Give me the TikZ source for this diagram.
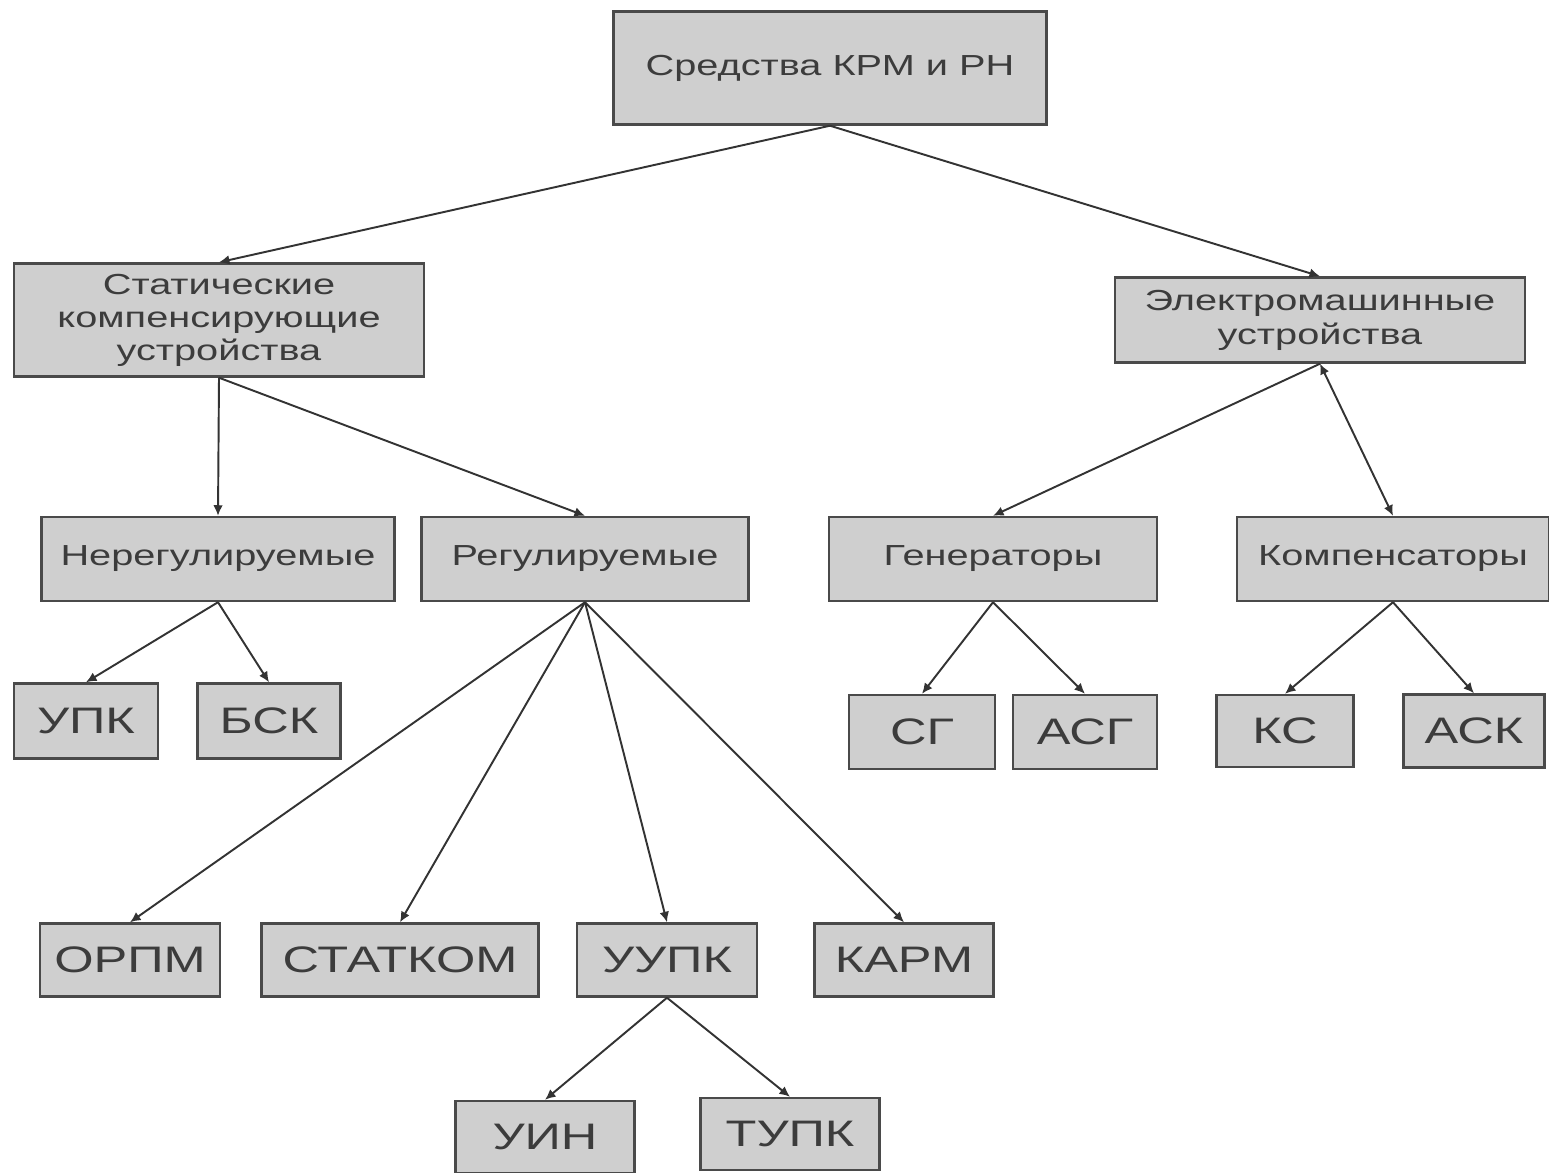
\documentclass[tikz,border=0pt]{standalone}
\usepackage{fontspec}
\setmainfont{Liberation Sans}
\newfontfamily\widefont{Liberation Sans}[FakeStretch=1.37]
\usetikzlibrary{arrows.meta}
\definecolor{boxfill}{HTML}{CFCFCF}
\definecolor{boxline}{HTML}{4A4A4A}
\definecolor{boxtext}{HTML}{3C3C3C}
\tikzset{
	box/.style={draw=boxline,fill=boxfill,line width=1.4pt,inner sep=0pt,
		text=boxtext,align=center},
	wordbox/.style={box,font=\widefont\fontsize{16.5}{19.5}\selectfont},
	abbrbox/.style={box,font=\widefont\fontsize{21}{25}\selectfont},
	tip/.tip={Latex[length=6pt,width=5.5pt]},
	link/.style={draw=black!80,line width=1.1pt,-tip},
}

\begin{document}
\begin{tikzpicture}[x=0.02cm,y=-0.02cm]
	\useasboundingbox (0,0) rectangle (1549,1173);
	% upper levels
	\node[wordbox,minimum width=8.66cm,minimum height=2.26cm] (krm) at (830,68)
		{Средства КРМ и РН};
	\node[wordbox,font=\widefont\fontsize{16.5}{18.8}\selectfont,
		minimum width=8.2cm,minimum height=2.26cm] (stat) at (219,320)
		{Статические\\компенсирующие\\устройства};
	\node[wordbox,font=\widefont\fontsize{16.5}{19.3}\selectfont,
		minimum width=8.2cm,minimum height=1.7cm] (elmash) at (1320,320)
		{Электромашинные\\устройства};
	\node[wordbox,minimum width=7.06cm,minimum height=1.68cm] (nereg) at (218,559)
		{Нерегулируемые};
	\node[wordbox,minimum width=6.54cm,minimum height=1.68cm] (reg) at (585,559)
		{Регулируемые};
	\node[wordbox,minimum width=6.56cm,minimum height=1.68cm] (gen) at (993,559)
		{Генераторы};
	\node[wordbox,minimum width=6.24cm,minimum height=1.68cm] (komp) at (1393,559)
		{Компенсаторы};
	% devices
	\node[abbrbox,minimum width=2.88cm,minimum height=1.5cm] (upk) at (86,721) {УПК};
	\node[abbrbox,minimum width=2.86cm,minimum height=1.5cm] (bsk) at (269,721) {БСК};
	\node[abbrbox,minimum width=2.92cm,minimum height=1.48cm] (sg) at (922,732) {СГ};
	\node[abbrbox,minimum width=2.88cm,minimum height=1.48cm] (asg) at (1085,732) {АСГ};
	\node[abbrbox,minimum width=2.74cm,minimum height=1.44cm] (ks) at (1285,731) {КС};
	\node[abbrbox,minimum width=2.82cm,minimum height=1.46cm] (ask) at (1474,731) {АСК};
	\node[abbrbox,minimum width=3.6cm,minimum height=1.46cm] (orpm) at (130,960) {ОРПМ};
	\node[abbrbox,minimum width=5.54cm,minimum height=1.46cm] (statkom) at (400,960) {СТАТКОМ};
	\node[abbrbox,minimum width=3.6cm,minimum height=1.46cm] (uupk) at (667,960) {УУПК};
	\node[abbrbox,minimum width=3.58cm,minimum height=1.46cm] (karm) at (904,960) {КАРМ};
	\node[abbrbox,minimum width=3.58cm,minimum height=1.44cm] (uin) at (545,1137) {УИН};
	\node[abbrbox,minimum width=3.58cm,minimum height=1.44cm] (tupk) at (790,1134) {ТУПК};
	% connectors
	\draw[link] (krm.south) -- (stat.north);
	\draw[link] (krm.south) -- (elmash.north);
	\draw[link] (stat.south) -- (nereg.north);
	\draw[link] (stat.south) -- (reg.north);
	\draw[link] (elmash.south) -- (gen.north);
	\draw[link,tip-tip] (elmash.south) -- (komp.north);
	\draw[link] (nereg.south) -- (upk.north);
	\draw[link] (nereg.south) -- (bsk.north);
	\foreach \t in {orpm,statkom,uupk,karm}
		\draw[link] (reg.south) -- (\t.north);
	\draw[link] (gen.south) -- (sg.north);
	\draw[link] (gen.south) -- (asg.north);
	\draw[link] (komp.south) -- (ks.north);
	\draw[link] (komp.south) -- (ask.north);
	\draw[link] (uupk.south) -- (uin.north);
	\draw[link] (uupk.south) -- (tupk.north);
\end{tikzpicture}
\end{document}
